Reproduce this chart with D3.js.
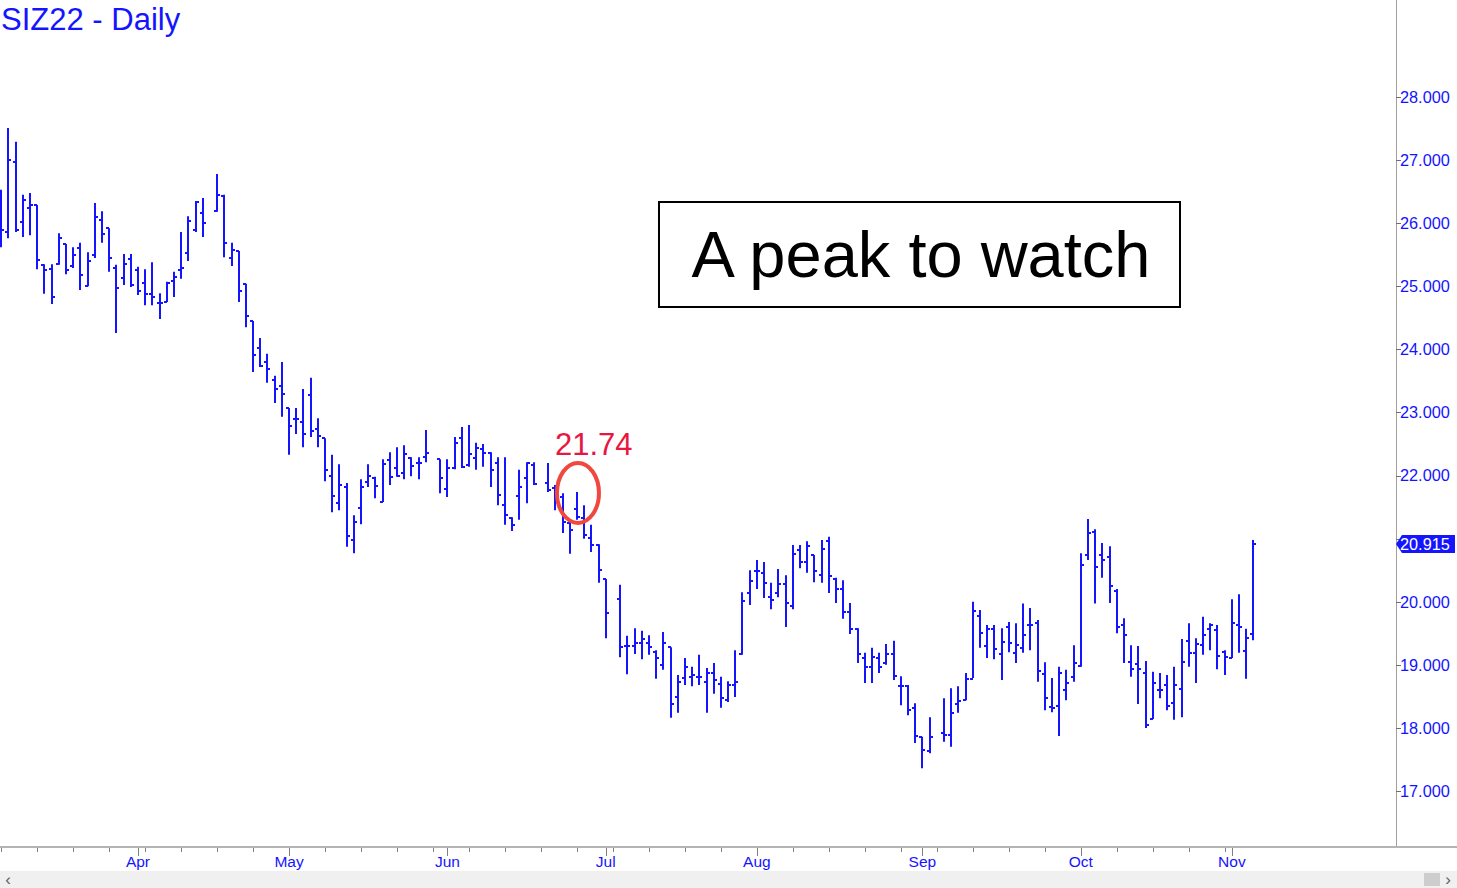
<!DOCTYPE html>
<html>
<head>
<meta charset="utf-8">
<script src="https://cdn.jsdelivr.net/npm/d3@7"></script>
<style>
  html, body { margin: 0; padding: 0; background: #fff; overflow: hidden; }
  svg { display: block; font-family: "Liberation Sans", Arial, sans-serif; }
</style>
</head>
<body>
<div id="chart"></div>
<script>
// SIZ22 daily OHLC, one slot per weekday from Mar 7 to Nov 4 (null = exchange holiday)
const OPEN = [26.29,25.86,26.97,26.02,26.24,26.29,25.34,25.27,25.35,25.67,25.32,25.61,25.00,25.50,26.05,25.92,25.29,25.13,25.43,25.26,
  25.05,24.88,24.73,24.75,25.08,25.26,25.53,25.89,26.16,null,26.19,26.43,25.45,25.56,25.04,24.45,24.02,23.80,23.51,23.42,
  23.07,22.90,22.85,23.28,22.74,22.59,21.99,21.56,21.82,20.98,21.49,21.90,21.96,21.58,22.25,22.12,22.04,22.28,22.20,22.29,
  null,22.26,21.79,22.12,22.59,22.17,22.28,22.42,22.36,22.20,21.53,21.33,21.68,21.96,22.17,null,21.88,21.80,21.66,21.25,
  21.47,21.33,21.01,20.90,20.36,null,20.04,19.30,19.30,19.35,19.35,19.20,19.00,19.28,18.49,18.79,18.81,18.81,18.73,18.87,
  18.70,18.44,18.68,19.17,20.14,20.49,20.46,20.07,20.14,20.28,19.93,20.82,20.63,20.74,20.42,20.96,20.36,20.20,19.84,19.57,
  19.11,18.97,19.11,19.03,19.17,18.66,18.66,18.32,17.86,17.63,null,17.92,17.89,18.38,18.44,18.78,19.77,19.30,19.57,19.17,
  19.60,19.19,19.27,19.63,19.66,18.85,18.33,18.35,18.60,18.81,18.98,20.74,21.11,20.74,20.71,20.17,19.63,19.04,19.01,18.87,
  18.14,18.60,18.68,18.39,18.62,19.38,19.19,19.31,19.57,19.55,19.20,19.11,19.63,19.22,19.49];
const HIGH = [26.53,27.51,27.29,26.45,26.48,26.29,25.35,25.35,25.84,25.67,25.62,25.69,25.54,26.32,26.19,25.92,25.34,25.51,25.51,25.31,
  25.27,25.38,24.89,25.07,25.23,25.86,26.11,26.35,26.40,null,26.78,26.45,25.69,25.56,25.04,24.45,24.18,23.93,23.58,23.80,
  23.07,23.07,23.37,23.55,22.91,22.59,22.33,22.18,21.88,21.37,21.94,22.18,21.98,22.26,22.37,22.45,22.48,22.29,22.29,22.72,
  null,22.26,22.26,22.61,22.77,22.80,22.52,22.50,22.37,22.29,22.29,21.34,22.09,22.21,22.21,null,22.20,21.85,21.72,21.30,
  21.74,21.53,21.22,20.91,20.36,null,20.27,19.46,19.58,19.54,19.47,19.23,19.52,19.28,18.84,19.11,18.97,19.16,18.95,19.03,
  18.81,18.74,19.23,20.15,20.50,20.66,20.63,20.30,20.52,20.42,20.90,20.90,20.96,20.74,20.98,21.03,20.38,20.34,19.98,19.58,
  19.19,19.27,19.19,19.33,19.38,18.82,18.68,18.39,17.86,18.17,null,18.47,18.63,18.66,18.87,20.00,19.87,19.63,19.63,19.58,
  19.68,19.66,19.97,19.90,19.71,19.04,18.79,18.97,18.92,19.31,20.77,21.31,21.15,20.93,20.88,20.20,19.74,19.31,19.30,19.06,
  18.89,18.87,18.84,18.97,19.41,19.66,19.42,19.76,19.66,19.63,19.23,20.04,20.12,19.57,20.98];
const LOW = [25.62,25.76,25.86,25.78,25.81,25.27,24.88,24.72,25.34,25.19,25.29,24.94,25.00,25.45,25.69,25.23,24.26,25.02,24.99,24.86,
  24.70,24.70,24.48,24.75,24.83,25.12,25.40,25.86,25.78,null,26.18,25.46,25.32,24.75,24.35,23.64,23.72,23.47,23.15,22.93,
  22.33,22.66,22.45,22.61,22.45,21.91,21.42,21.45,20.87,20.77,21.23,21.82,21.64,21.58,21.85,21.98,21.94,21.99,21.94,22.21,
  null,21.72,21.66,22.10,22.12,22.14,22.09,22.14,21.82,21.53,21.22,21.12,21.30,21.56,21.85,null,21.74,21.45,21.09,20.76,
  21.30,21.00,20.79,20.30,19.42,null,19.12,18.85,19.17,19.09,19.16,18.78,18.92,18.16,18.24,18.68,18.66,18.68,18.24,18.54,
  18.32,18.41,18.49,19.16,19.95,20.20,20.06,19.88,20.07,19.60,19.88,20.53,20.46,20.31,20.30,20.14,19.98,19.73,19.49,19.03,
  18.71,18.71,18.87,19.00,18.76,18.36,18.20,17.76,17.36,17.60,null,17.78,17.70,18.24,18.44,18.79,19.27,19.11,19.09,18.76,
  19.20,19.03,19.19,19.23,18.73,18.28,18.25,17.87,18.44,18.73,18.97,20.66,19.97,20.38,19.98,19.50,19.03,18.81,18.38,18.00,
  18.14,18.47,18.28,18.13,18.17,18.97,18.71,19.16,19.23,18.93,18.84,19.11,19.19,18.78,19.39];
const CLOSE = [25.89,27.00,25.89,26.37,26.29,25.42,25.26,24.83,25.76,25.26,25.50,25.18,25.40,26.10,25.83,25.45,24.97,25.35,25.02,24.93,
  24.88,24.83,24.73,25.05,25.15,25.29,26.03,26.34,26.00,null,26.45,25.69,25.57,24.93,24.53,23.91,23.74,23.69,23.37,23.29,
  22.79,22.90,22.66,22.71,22.63,22.09,21.68,21.85,21.04,21.26,21.82,21.99,21.83,22.18,21.98,21.99,22.34,22.15,22.20,22.36,
  null,21.96,22.12,22.52,22.14,22.34,22.44,22.36,22.09,21.69,21.37,21.22,21.82,22.20,21.87,null,21.77,21.76,21.26,21.14,
  21.34,21.06,20.90,20.50,19.82,null,19.28,19.30,19.35,19.41,19.28,19.11,19.35,18.38,18.73,18.97,18.84,18.81,18.87,18.76,
  18.47,18.68,18.73,20.01,20.33,20.49,20.30,20.03,20.28,19.98,20.76,20.63,20.88,20.49,20.84,20.41,20.20,19.84,19.57,19.17,
  18.97,19.12,18.97,19.17,18.82,18.66,18.28,17.87,17.65,17.86,null,17.89,18.24,18.43,18.78,19.85,19.50,19.57,19.25,19.36,
  19.35,19.31,19.47,19.63,18.90,18.47,18.32,18.87,18.71,19.03,20.58,21.09,20.55,20.66,20.25,19.60,19.47,18.93,18.93,18.05,
  18.71,18.60,18.35,18.68,19.04,19.19,19.33,19.47,19.63,19.14,19.12,19.66,19.60,19.42,20.915];

// month labels and the weekday slot where each month starts
const MONTH_LABELS = ['Apr', 'May', 'Jun', 'Jul', 'Aug', 'Sep', 'Oct', 'Nov'];
const MONTH_SLOTS = [19, 40, 62, 84, 105, 128, 150, 171];
const PRICE_TICKS = [17, 18, 19, 20, 21, 22, 23, 24, 25, 26, 27, 28];
// 21.000 sits under the last-price marker, so its label is not shown
const PRICE_LABELS = [17, 18, 19, 20, 22, 23, 24, 25, 26, 27, 28];
const LAST_PRICE = 20.915;
const PEAK_SLOT = 80;
const PEAK_LABEL = '21.74';
const TITLE = 'SIZ22 - Daily';
const NOTE = 'A peak to watch';

const W = 1457, H = 888;
const AXIS_X = 1396;
const AXIS_Y = 847;
const BLUE = '#1414ff';

const svg = d3.select('#chart').append('svg').attr('width', W).attr('height', H);

const x = d3.scaleLinear().domain([0, 174]).range([1.2, 1.2 + 174 * 7.197]);
const y = d3.scaleLinear().domain([17, 28]).range([791, 97]);

const bars = OPEN.map((o, i) => ({ i, o, h: HIGH[i], l: LOW[i], c: CLOSE[i] })).filter((d) => d.o !== null);

// price axis
svg.append('line')
  .attr('x1', AXIS_X + 0.5).attr('x2', AXIS_X + 0.5)
  .attr('y1', 0).attr('y2', AXIS_Y)
  .attr('stroke', '#a0a0a0').attr('stroke-width', 1);

const yTicks = svg.append('g');
yTicks.selectAll('line')
  .data(PRICE_TICKS)
  .join('line')
  .attr('x1', AXIS_X).attr('x2', AXIS_X + 5)
  .attr('y1', (d) => Math.round(y(d)) + 0.5).attr('y2', (d) => Math.round(y(d)) + 0.5)
  .attr('stroke', '#707070');
yTicks.selectAll('text')
  .data(PRICE_LABELS)
  .join('text')
  .attr('x', AXIS_X + 4)
  .attr('y', (d) => y(d))
  .attr('dy', '0.36em')
  .attr('font-size', '16.3px')
  .attr('fill', BLUE)
  .text((d) => d.toFixed(3));

// time axis
svg.append('rect')
  .attr('x', 0).attr('y', AXIS_Y - 1).attr('width', W).attr('height', 2)
  .attr('fill', '#b4b4b4');

const weekSlots = d3.range(0, 175, 5);
svg.append('g').selectAll('line')
  .data(weekSlots)
  .join('line')
  .attr('x1', (d) => Math.round(x(d)) + 0.5).attr('x2', (d) => Math.round(x(d)) + 0.5)
  .attr('y1', AXIS_Y + 1).attr('y2', AXIS_Y + 5)
  .attr('stroke', '#808080');

const months = svg.append('g');
months.selectAll('line')
  .data(MONTH_SLOTS)
  .join('line')
  .attr('x1', (d) => Math.round(x(d)) + 0.5).attr('x2', (d) => Math.round(x(d)) + 0.5)
  .attr('y1', AXIS_Y + 1).attr('y2', AXIS_Y + 9)
  .attr('stroke', '#808080');
months.selectAll('text')
  .data(MONTH_LABELS)
  .join('text')
  .attr('x', (_, i) => x(MONTH_SLOTS[i]))
  .attr('y', 867)
  .attr('text-anchor', 'middle')
  .attr('font-size', '15.5px')
  .attr('fill', BLUE)
  .text((d) => d);

// scrollbar strip
svg.append('rect').attr('x', 0).attr('y', 871).attr('width', W).attr('height', 17).attr('fill', '#f0f0f0');
svg.append('rect').attr('x', 1424).attr('y', 873).attr('width', 16).attr('height', 13).attr('fill', '#cdcdcd');
svg.append('text').attr('x', 8).attr('y', 885).attr('text-anchor', 'middle')
  .attr('font-size', '17px').attr('fill', '#606060').text('‹');
svg.append('text').attr('x', 1448).attr('y', 885).attr('text-anchor', 'middle')
  .attr('font-size', '17px').attr('fill', '#606060').text('›');

// OHLC bars
const g = svg.append('g').attr('stroke', BLUE).attr('stroke-width', 2);
g.selectAll('.hl')
  .data(bars)
  .join('line')
  .attr('class', 'hl')
  .attr('x1', (d) => Math.round(x(d.i))).attr('x2', (d) => Math.round(x(d.i)))
  .attr('y1', (d) => y(d.h)).attr('y2', (d) => y(d.l));
g.selectAll('.op')
  .data(bars)
  .join('line')
  .attr('class', 'op')
  .attr('x1', (d) => Math.round(x(d.i)) - 3).attr('x2', (d) => Math.round(x(d.i)))
  .attr('y1', (d) => Math.round(y(d.o))).attr('y2', (d) => Math.round(y(d.o)));
g.selectAll('.cl')
  .data(bars)
  .join('line')
  .attr('class', 'cl')
  .attr('x1', (d) => Math.round(x(d.i))).attr('x2', (d) => Math.round(x(d.i)) + 3)
  .attr('y1', (d) => Math.round(y(d.c))).attr('y2', (d) => Math.round(y(d.c)));

// last price marker
const ly = y(LAST_PRICE);
svg.append('path')
  .attr('d', `M${AXIS_X},${ly} L${AXIS_X + 6},${ly - 9} L${W - 2},${ly - 9} L${W - 2},${ly + 9} L${AXIS_X + 6},${ly + 9} Z`)
  .attr('fill', BLUE);
svg.append('text')
  .attr('x', AXIS_X + 4).attr('y', ly).attr('dy', '0.36em')
  .attr('font-size', '16.3px').attr('fill', '#fff')
  .text(LAST_PRICE.toFixed(3));

// title
svg.append('text')
  .attr('x', 1).attr('y', 30)
  .attr('font-size', '31px').attr('fill', BLUE)
  .text(TITLE);

// annotation box
svg.append('rect')
  .attr('x', 659).attr('y', 202).attr('width', 521).attr('height', 105)
  .attr('fill', '#fff').attr('stroke', '#000').attr('stroke-width', 2);
svg.append('text')
  .attr('x', 921).attr('y', 277)
  .attr('text-anchor', 'middle')
  .attr('font-size', '65px').attr('fill', '#000')
  .text(NOTE);

// peak marker
const peak = bars.find((d) => d.i === PEAK_SLOT);
svg.append('ellipse')
  .attr('cx', x(PEAK_SLOT) + 1).attr('cy', y(peak.h) + 1)
  .attr('rx', 21).attr('ry', 30)
  .attr('fill', 'none').attr('stroke', '#f0473f').attr('stroke-width', 4);
svg.append('text')
  .attr('x', 555).attr('y', 455)
  .attr('font-size', '31px').attr('fill', '#e8173f')
  .text(PEAK_LABEL);
</script>
</body>
</html>
